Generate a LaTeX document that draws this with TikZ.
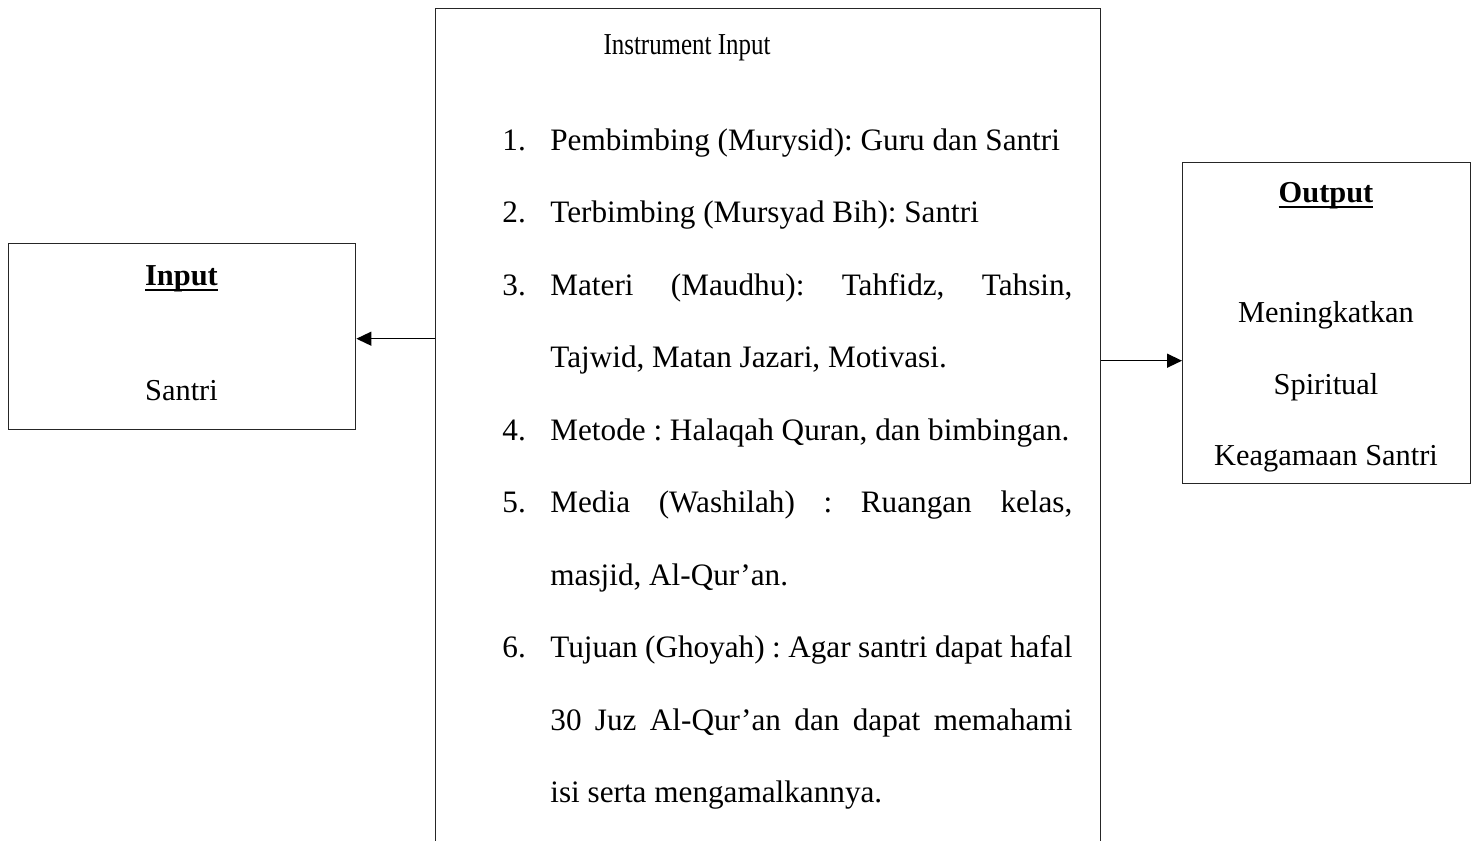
\documentclass[tikz,border=0pt]{standalone}
\usepackage{fontspec}
\setmainfont{Liberation Serif}
\usepackage{tikz}
\usetikzlibrary{
  arrows.meta,
  positioning,
  calc
}
\tikzset{
  % Plain frame: thin black outline, size given per box
  frm/.style={
    rectangle, draw=black!85, line width=0.7pt,
    inner sep=0pt
  },
  % Single line of box text, placed on its baseline
  txt/.style={font=\fontsize{15.2}{18}\selectfont, inner sep=0pt, anchor=base},
  % Numbered list in the middle box
  lst/.style={
    font=\fontsize{15.6}{36.25}\selectfont,
    text width=285pt, align=justify, inner sep=0pt
  },
  % Arrow
  arr/.style={-{Triangle[length=7.5pt,width=7pt]}, line width=0.7pt, color=black}
}
% list item with hanging number
\newcommand{\itm}[2]{\hangindent=24pt\hangafter=1\noindent\makebox[24pt][l]{#1}#2\par}
% bold title with heavy underline
\newcommand{\ttl}[1]{\setbox0=\hbox{\textbf{#1}}\rlap{\copy0}\rule[-3.2pt]{\wd0}{1.4pt}}

\begin{document}
\frenchspacing
\begin{tikzpicture}[x=0.5pt, y=-0.5pt]
  \useasboundingbox (0,0) rectangle (1476,840);
  % boxes
  \node[frm, anchor=north west, minimum width=173.5pt, minimum height=93pt] (inbox) at (8,243) {};
  \node[frm, anchor=north west, minimum width=332.5pt, minimum height=446pt] (instr) at (435,8) {};
  \node[frm, anchor=north west, minimum width=144pt, minimum height=160.5pt] (outbox) at (1182,162) {};
  % input box text
  \node[txt] (intitle) at (181.5,285) {\ttl{Input}};
  \node[txt] (insantri) at (181.5,400) {Santri};
  % middle box text
  \node[txt] (instrtitle) at (687,55) {\scalebox{0.82}[1]{Instrument Input}};
  \node[lst, anchor=base west] (items) at (502,150) {\frenchspacing%
    \itm{1.}{Pembimbing (Murysid): Guru dan Santri}%
    \itm{2.}{Terbimbing (Mursyad Bih): Santri}%
    \itm{3.}{Materi (Maudhu): Tahfidz, Tahsin,\linebreak Tajwid, Matan Jazari, Motivasi.}%
    \itm{4.}{Metode : Halaqah Quran, dan bimbingan.}%
    \itm{5.}{Media (Washilah) : Ruangan kelas,\linebreak masjid, Al-Qur'an.}%
    \itm{6.}{Tujuan (Ghoyah) : Agar santri dapat hafal\linebreak 30 Juz Al-Qur'an dan dapat memahami\linebreak isi serta mengamalkannya.}};
  % output box text
  \node[txt] (outtitle) at (1326,202) {\ttl{Output}};
  \node[txt] (out1) at (1326,322) {Meningkatkan};
  \node[txt] (out2) at (1326,394) {Spiritual};
  \node[txt] (out3) at (1326,465) {Keagamaan Santri};
  % arrows
  \coordinate (inend) at ([yshift=-1pt]inbox.east);
  \coordinate (outend) at ([yshift=-18.75pt]outbox.west);
  \draw[arr] (instr.west |- inend) -- (inend);
  \draw[arr] (instr.east |- outend) -- (outend);
\end{tikzpicture}
\end{document}
